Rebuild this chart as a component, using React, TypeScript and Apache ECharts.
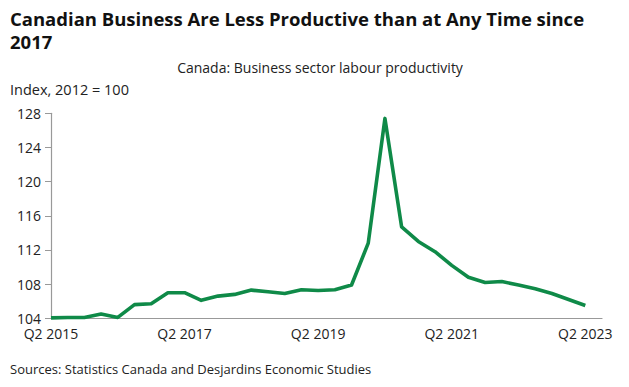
import React, { useEffect, useRef } from "react";
import * as echarts from "echarts";

const categories = [
  "Q2 2015", "Q3 2015", "Q4 2015", "Q1 2016", "Q2 2016", "Q3 2016", "Q4 2016", "Q1 2017",
  "Q2 2017", "Q3 2017", "Q4 2017", "Q1 2018", "Q2 2018", "Q3 2018", "Q4 2018", "Q1 2019",
  "Q2 2019", "Q3 2019", "Q4 2019", "Q1 2020", "Q2 2020", "Q3 2020", "Q4 2020", "Q1 2021",
  "Q2 2021", "Q3 2021", "Q4 2021", "Q1 2022", "Q2 2022", "Q3 2022", "Q4 2022", "Q1 2023",
  "Q2 2023", "Q3 2023",
];

const productivity = [
  104.05, 104.1, 104.1, 104.5, 104.1, 105.6, 105.7, 107.0,
  107.0, 106.1, 106.6, 106.8, 107.3, 107.1, 106.9, 107.35,
  107.25, 107.35, 107.9, 112.8, 127.4, 114.7, 113.0, 111.8,
  110.2, 108.8, 108.2, 108.3, 107.9, 107.45, 106.9, 106.2,
  105.5,
];

const titleLines = ["Canadian Business Are Less Productive than at Any Time since", "2017"];
const subtitleText = "Canada: Business sector labour productivity";
const unitText = "Index, 2012 = 100";
const sourceText = "Sources: Statistics Canada and Desjardins Economic Studies";

const FONT = "'Open Sans', 'Noto Sans', sans-serif";

export default function App() {
  const ref = useRef<HTMLDivElement>(null);
  useEffect(() => {
    if (!ref.current) return;
    const chart = echarts.init(ref.current, undefined, { renderer: "svg" });
    chart.setOption({
      animation: false,
      backgroundColor: "#ffffff",
      textStyle: { fontFamily: FONT },
      graphic: [
        ...titleLines.map((line, i) => ({
          type: "text",
          x: 10,
          y: 18 + i * 23,
          style: {
            text: line,
            fontFamily: FONT,
            fontSize: 18.5,
            fontWeight: "bold",
            fill: "#111111",
            verticalAlign: "middle",
          },
        })),
        {
          type: "text",
          x: 320,
          y: 67,
          style: {
            text: subtitleText,
            fontFamily: FONT,
            fontSize: 14,
            fill: "#222222",
            align: "center",
            verticalAlign: "middle",
          },
        },
        {
          type: "text",
          x: 10,
          y: 89,
          style: {
            text: unitText,
            fontFamily: FONT,
            fontSize: 14.5,
            fill: "#222222",
            verticalAlign: "middle",
          },
        },
        {
          type: "text",
          x: 10,
          y: 369,
          style: {
            text: sourceText,
            fontFamily: FONT,
            fontSize: 13,
            fill: "#222222",
            verticalAlign: "middle",
          },
        },
      ],
      grid: { left: 51, right: 27, top: 113.3, bottom: 68.7, containLabel: false },
      xAxis: {
        type: "category",
        data: categories,
        boundaryGap: false,
        axisLine: { show: true, lineStyle: { color: "#999999", width: 1.2 } },
        axisTick: { show: false },
        axisLabel: {
          interval: 7,
          fontFamily: FONT,
          fontSize: 14,
          color: "#222222",
          margin: 8,
        },
        splitLine: { show: false },
      },
      yAxis: {
        type: "value",
        min: 104,
        max: 128,
        interval: 4,
        axisLine: { show: true, lineStyle: { color: "#999999", width: 1.2 } },
        axisTick: { show: true, length: 6, lineStyle: { color: "#999999" } },
        axisLabel: {
          fontFamily: FONT,
          fontSize: 14,
          color: "#222222",
          margin: 10,
        },
        splitLine: { show: false },
      },
      series: [
        {
          type: "line",
          data: productivity,
          showSymbol: false,
          symbol: "none",
          clip: false,
          lineStyle: { color: "#0f8a48", width: 3.6, join: "round" },
        },
      ],
    });
    return () => chart.dispose();
  }, []);
  return (
    <div
      ref={ref}
      style={{ position: "absolute", left: 0, top: 0, width: 629, height: 387 }}
    />
  );
}
